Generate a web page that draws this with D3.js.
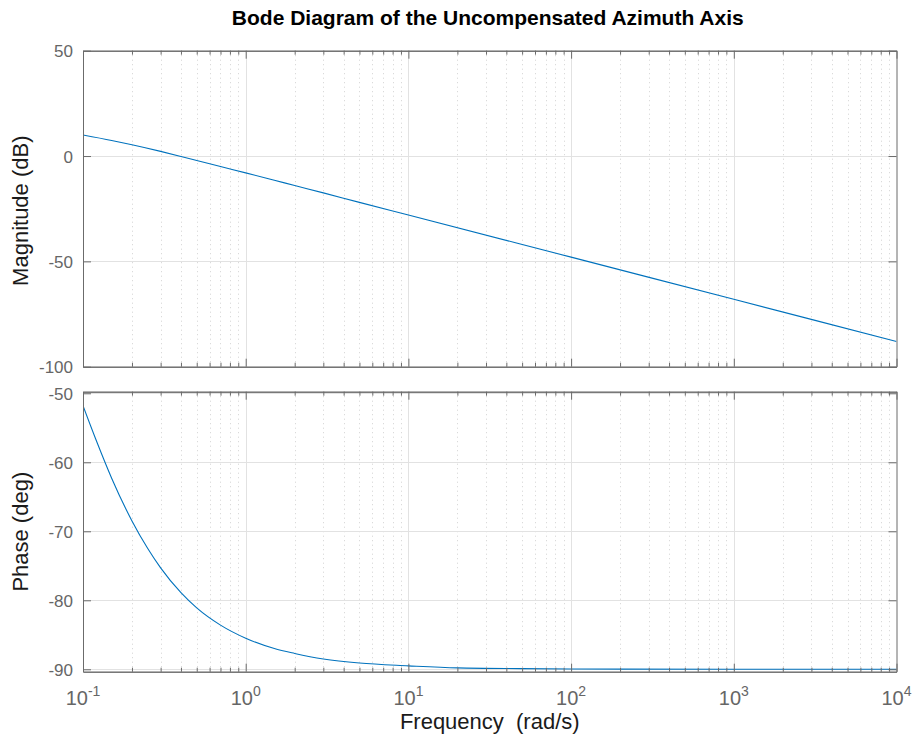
<!DOCTYPE html>
<html>
<head>
<meta charset="utf-8">
<script src="https://cdn.jsdelivr.net/npm/d3@7"></script>
<style>
  body { margin: 0; background: #fff; }
  svg { display: block; font-family: "Liberation Sans", Arial, Helvetica, sans-serif; }
</style>
</head>
<body>
<svg id="chart" width="914" height="739"></svg>
<script>
// Frequency response of the azimuth axis (open loop, no compensation)
const freqMag  = [0.1, 0.15, 0.2, 0.3, 0.4, 0.5, 0.7, 1, 1.5, 2, 3, 5, 10, 100, 1000, 10000];
const magDb    = [10.0, 7.4, 5.35, 2.2, -0.2, -2.1, -5.0, -8.0, -11.5, -14.0, -17.5, -22.0, -28.0, -48.0, -68.0, -88.0];
const freqPhase = [0.1, 0.12, 0.15, 0.2, 0.25, 0.3, 0.4, 0.5, 0.7, 1, 1.5, 2, 3, 5, 10, 20, 50, 100, 1000, 10000];
const phaseDeg  = [-51.8, -56.7, -62.3, -68.5, -72.5, -75.3, -78.9, -81.1, -83.6, -85.5, -87.0, -87.7, -88.5, -89.1, -89.5, -89.8, -89.9, -89.95, -90.0, -90.0];

// Axis ticks
const decadeExponents = [-1, 0, 1, 2, 3, 4];
const magTicks   = [-100, -50, 0, 50];
const phaseTicks = [-90, -80, -70, -60, -50];
const freqRange  = [0.1, 10000];
const magRange   = [-100, 50];
const phaseRange = [-90.35, -49.77];

const svg = d3.select("#chart");

const left = 83, right = 896.5;
const magTop = 50.7, magBottom = 366.7;
const phTop = 391.7, phBottom = 671.7;

const x = d3.scaleLog().domain(freqRange).range([left, right]);
const yMag = d3.scaleLinear().domain(magRange).range([magBottom, magTop]);
const yPh = d3.scaleLinear().domain(phaseRange).range([phBottom, phTop]);

const majorFreqs = decadeExponents.map(e => Math.pow(10, e));
const minorFreqs = [];
decadeExponents.slice(0, -1).forEach(e => {
  for (let k = 2; k <= 9; k++) minorFreqs.push(k * Math.pow(10, e));
});

const axisColor = "#6b6b6b";
const gridColor = "#e2e2e2";
const minorGridColor = "#d2d2d2";
const lineColor = "#0072BD";

function styleAxis(g) {
  g.selectAll(".domain").attr("stroke", axisColor).attr("stroke-width", 1);
  g.selectAll(".tick line").attr("stroke", axisColor).attr("stroke-width", 1);
  g.selectAll(".tick text").attr("fill", "#666666").attr("font-size", 17)
    .attr("font-family", "\"Liberation Sans\", Arial, Helvetica, sans-serif");
}

function drawPanel(y, top, bottom, yTicks, freqs, values, clipId) {
  const g = svg.append("g");

  // minor frequency grid (dotted)
  g.append("g").selectAll("line").data(minorFreqs).join("line")
    .attr("x1", d => Math.round(x(d)) + 0.5).attr("x2", d => Math.round(x(d)) + 0.5)
    .attr("y1", top).attr("y2", bottom)
    .attr("stroke", minorGridColor).attr("stroke-width", 1)
    .attr("stroke-dasharray", "1,3.5");

  // major frequency grid
  g.append("g").selectAll("line").data(majorFreqs.slice(1, -1)).join("line")
    .attr("x1", d => Math.round(x(d)) + 0.5).attr("x2", d => Math.round(x(d)) + 0.5)
    .attr("y1", top).attr("y2", bottom)
    .attr("stroke", gridColor).attr("stroke-width", 1);

  // value grid
  g.append("g").selectAll("line").data(yTicks).join("line")
    .attr("x1", left).attr("x2", right)
    .attr("y1", d => Math.round(y(d)) + 0.5).attr("y2", d => Math.round(y(d)) + 0.5)
    .attr("stroke", gridColor).attr("stroke-width", 1);

  // response curve
  svg.append("clipPath").attr("id", clipId).append("rect")
    .attr("x", left).attr("y", top).attr("width", right - left).attr("height", bottom - top);
  const pts = freqs.map((f, i) => ({ f: f, v: values[i] }));
  const line = d3.line().x(d => x(d.f)).y(d => y(d.v)).curve(d3.curveMonotoneX);
  g.append("path").datum(pts)
    .attr("clip-path", `url(#${clipId})`)
    .attr("d", line).attr("fill", "none")
    .attr("stroke", lineColor).attr("stroke-width", 1.1);

  // box with inward ticks on all sides
  g.append("g").attr("transform", `translate(0,${bottom})`)
    .call(d3.axisBottom(x).tickValues(minorFreqs).tickSize(-4).tickSizeOuter(0).tickFormat(""))
    .call(styleAxis);
  g.append("g").attr("transform", `translate(0,${bottom})`)
    .call(d3.axisBottom(x).tickValues(majorFreqs).tickSize(-8).tickSizeOuter(0).tickFormat(""))
    .call(styleAxis);
  g.append("g").attr("transform", `translate(0,${top})`)
    .call(d3.axisTop(x).tickValues(minorFreqs).tickSize(-4).tickSizeOuter(0).tickFormat(""))
    .call(styleAxis);
  g.append("g").attr("transform", `translate(0,${top})`)
    .call(d3.axisTop(x).tickValues(majorFreqs).tickSize(-8).tickSizeOuter(0).tickFormat(""))
    .call(styleAxis);
  g.append("g").attr("transform", `translate(${left},0)`)
    .call(d3.axisLeft(y).tickValues(yTicks).tickSize(-8).tickSizeOuter(0).tickPadding(10)
      .tickFormat(d => String(d)))
    .call(styleAxis)
    .call(a => a.selectAll(".tick text").attr("dy", "0.36em"));
  g.append("g").attr("transform", `translate(${right},0)`)
    .call(d3.axisRight(y).tickValues(yTicks).tickSize(-8).tickSizeOuter(0).tickFormat(""))
    .call(styleAxis);
}

drawPanel(yMag, magTop, magBottom, magTicks, freqMag, magDb, "clipMag");
drawPanel(yPh, phTop, phBottom, phaseTicks, freqPhase, phaseDeg, "clipPh");

// decade labels 10^n under the phase panel
const xl = svg.append("g").selectAll("text").data(decadeExponents).join("text")
  .attr("x", d => x(Math.pow(10, d)))
  .attr("y", 705)
  .attr("text-anchor", "middle")
  .attr("fill", "#666666")
  .attr("font-size", 20);
xl.append("tspan").text("10");
xl.append("tspan").attr("font-size", 14).attr("dy", -9).text(d => String(d));

// titles and axis labels
const midX = (left + right) / 2;
svg.append("text")
  .attr("x", midX - 2).attr("y", 24.5)
  .attr("text-anchor", "middle")
  .attr("font-weight", "bold").attr("font-size", 21).attr("fill", "#000")
  .text("Bode Diagram of the Uncompensated Azimuth Axis");

svg.append("text")
  .attr("x", midX).attr("y", 729)
  .attr("text-anchor", "middle")
  .attr("font-size", 22).attr("fill", "#1a1a1a")
  .style("white-space", "pre")
  .text("Frequency  (rad/s)");

svg.append("text")
  .attr("transform", `translate(28,${(magTop + magBottom) / 2 + 2}) rotate(-90)`)
  .attr("text-anchor", "middle")
  .attr("font-size", 22).attr("fill", "#1a1a1a")
  .text("Magnitude (dB)");

svg.append("text")
  .attr("transform", `translate(28,${(phTop + phBottom) / 2}) rotate(-90)`)
  .attr("text-anchor", "middle")
  .attr("font-size", 22).attr("fill", "#1a1a1a")
  .text("Phase (deg)");
</script>
</body>
</html>
